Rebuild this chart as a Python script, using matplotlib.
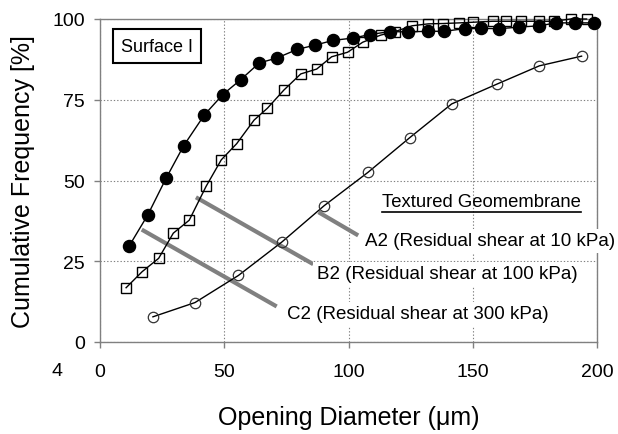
import matplotlib
matplotlib.use("Agg")
import matplotlib.pyplot as plt
from matplotlib.lines import Line2D

plt.rcParams['font.family'] = ['Liberation Sans', 'DejaVu Sans']

# ---- data ----
a2_x = [11.8, 19.2, 26.6, 33.7, 42.0, 49.4, 56.6, 64.1, 71.1, 79.4, 86.5, 93.9, 101.9,
        108.6, 116.7, 123.8, 131.8, 138.5, 146.7, 153.2, 160.7, 168.8, 176.8, 183.5, 191.1, 198.7]
a2_y = [29.8, 39.3, 50.7, 60.8, 70.3, 76.6, 81.2, 86.4, 87.9, 90.6, 91.9, 93.4, 94.1,
        95.2, 96.1, 96.0, 96.2, 96.2, 97.0, 97.1, 97.0, 97.5, 97.9, 98.8, 98.8, 98.8]

b2_x = [10.5, 17.0, 23.6, 29.5, 35.9, 42.7, 48.8, 55.0, 62.0, 67.4, 74.0, 80.8, 87.2, 93.2,
        99.6, 105.7, 112.9, 118.7, 125.6, 132.1, 138.0, 144.6, 150.2, 158.0, 163.5, 169.5,
        176.8, 182.7, 189.4, 195.8]
b2_y = [16.8, 21.8, 25.9, 33.7, 37.7, 48.2, 56.4, 61.4, 68.7, 72.4, 78.0, 83.0, 84.5, 88.3,
        89.7, 92.8, 95.0, 96.1, 97.9, 98.5, 98.6, 98.8, 99.0, 99.3, 99.3, 99.3,
        99.3, 99.3, 100.0, 100.0]

c2_x = [21.3, 38.2, 55.7, 73.1, 90.2, 107.8, 124.7, 141.5, 159.9, 176.8, 193.8]
c2_y = [7.8, 12.2, 20.6, 30.9, 42.2, 52.5, 63.3, 73.7, 79.9, 85.5, 88.5]

# annotation pointer lines (start, end) in data units
a2_ptr_x = [87.9, 103.9]
a2_ptr_y = [40.2, 33.0]
b2_ptr_x = [38.6, 85.8]
b2_ptr_y = [44.8, 24.1]
c2_ptr_x = [16.8, 71.1]
c2_ptr_y = [34.8, 11.0]

labels = ["A2 (Residual shear at 10 kPa)",
          "B2 (Residual shear at 100 kPa)",
          "C2 (Residual shear at 300 kPa)"]

x_ticks = [0, 50, 100, 150, 200]
y_ticks = [0, 25, 50, 75, 100]

# ---- figure ----
fig = plt.figure(figsize=(6.18, 4.35), dpi=100)
ax = fig.add_axes([100/618, 1-343/435, 497/618, 323/435])

ax.set_xlim(0, 200)
ax.set_ylim(0, 100)
ax.set_xticks(x_ticks)
ax.set_yticks(y_ticks)
ax.grid(True, linestyle=(0, (1.2, 1.8)), color='#808080', linewidth=0.8)
ax.set_axisbelow(True)
for s in ax.spines.values():
    s.set_color('#808080')
    s.set_linewidth(1.0)
ax.tick_params(axis='x', direction='out', length=4, width=1, color='#808080',
               labelsize=14, pad=11)
ax.tick_params(axis='y', direction='out', length=4, width=1, color='#808080',
               labelsize=14, pad=7)

# pointer lines
for px, py in [(a2_ptr_x, a2_ptr_y), (b2_ptr_x, b2_ptr_y), (c2_ptr_x, c2_ptr_y)]:
    ax.plot(px, py, color='#808080', linewidth=3, solid_capstyle='butt', zorder=2)

# series
ax.plot(c2_x, c2_y, color='black', linewidth=1, marker='o', markersize=7.5,
        markerfacecolor='none', markeredgecolor='#333333', markeredgewidth=0.9,
        zorder=3, clip_on=False)
ax.plot(b2_x, b2_y, color='black', linewidth=1, marker='s', markersize=7.8,
        markerfacecolor='none', markeredgecolor='black', markeredgewidth=1.0,
        zorder=4, clip_on=False)
ax.plot(a2_x, a2_y, color='black', linewidth=1, marker='o', markersize=8.7,
        markerfacecolor='black', markeredgecolor='black',
        zorder=5, clip_on=False)

# labels
ax.set_xlabel("Opening Diameter (\u03bcm)", fontsize=18, labelpad=18)
ax.set_ylabel("Cumulative Frequency [%]", fontsize=18, labelpad=12)

def px_to_axes(xp, yp):
    return ((xp - 100) / 497, (343 - yp) / 323)

ax.text(*px_to_axes(157, 47), "Surface I", transform=ax.transAxes, fontsize=13,
        ha='center', va='center', zorder=10,
        bbox=dict(boxstyle='square,pad=0.45', facecolor='white', edgecolor='black', linewidth=1.5))

tg = ax.text(*px_to_axes(382, 203), "Textured Geomembrane", transform=ax.transAxes,
             fontsize=13.3, ha='left', va='center', zorder=10)
white = dict(facecolor='white', edgecolor='none', pad=2.5)
ax.text(*px_to_axes(365, 242), labels[0], transform=ax.transAxes, fontsize=13.5,
        ha='left', va='center', clip_on=False, zorder=10, bbox=white)
ax.text(*px_to_axes(317, 275), labels[1], transform=ax.transAxes, fontsize=13.5,
        ha='left', va='center', zorder=10, bbox=white)
ax.text(*px_to_axes(287, 315), labels[2], transform=ax.transAxes, fontsize=13.5,
        ha='left', va='center', zorder=10, bbox=white)

fig.text(57/618, 1-372/435, "4", fontsize=14, ha='center', va='center')

# underline for "Textured Geomembrane"
fig.canvas.draw()
bb = tg.get_window_extent()
H = fig.bbox.height
y_u = bb.y0 - 1
fig.add_artist(Line2D([bb.x0 / fig.bbox.width, bb.x1 / fig.bbox.width],
                      [y_u / H, y_u / H], color='black', linewidth=1.2,
                      transform=fig.transFigure))

fig.savefig("out.png", dpi=100)
